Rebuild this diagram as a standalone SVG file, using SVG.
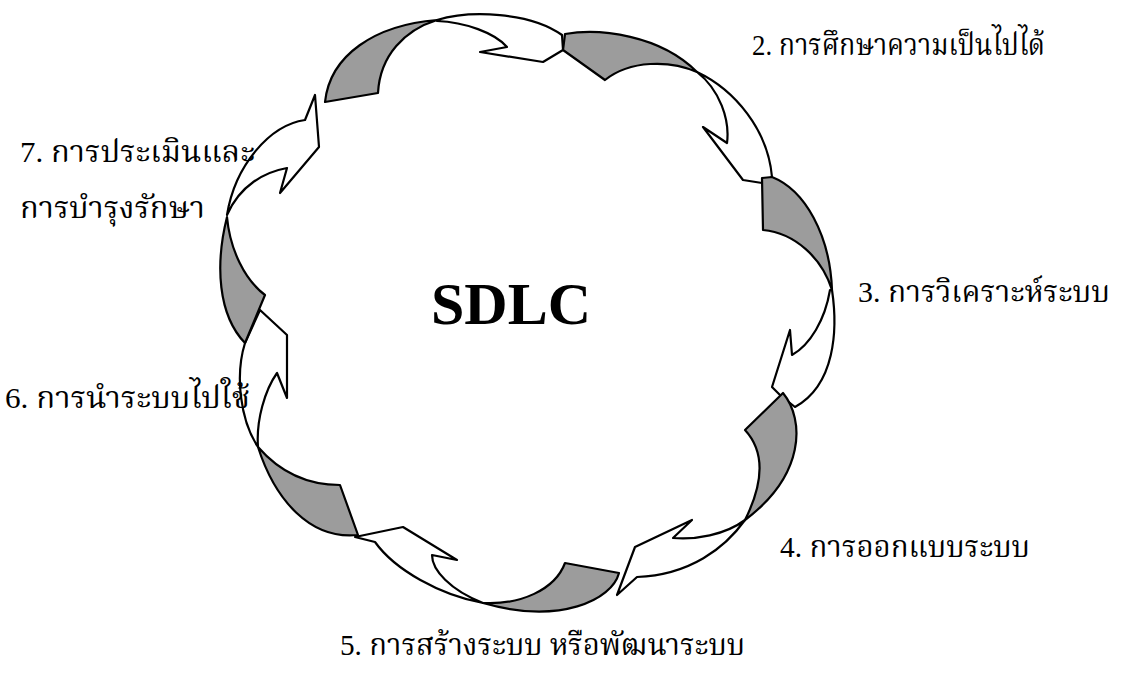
<svg xmlns="http://www.w3.org/2000/svg" width="1126" height="673" viewBox="0 0 1126 673">
<style>
.w{fill:#fff;stroke:#000;stroke-width:2.2;stroke-linejoin:round}
.g{fill:#9c9c9c;stroke:#000;stroke-width:2.2;stroke-linejoin:round}
.t{font-family:"Liberation Serif","Noto Serif Thai","Noto Sans Thai",serif;font-size:30px;fill:#000}
.c{font-family:"Liberation Serif","Times New Roman",serif;font-size:60px;font-weight:bold;fill:#000}
</style>
<rect width="1126" height="673" fill="#fff"/>
<g id="connectors">
<g id="arrow-1">
<path class="w" d="M437,20 C470,10 530,12 562,35 L563,50 L543,62 L480,52 L507,47 C495,33 465,22 437,21 Z"/>
<path class="g" d="M325,102 C330,55 375,25 437,20 C405,30 380,55 378,93 Z"/>
</g>
<g id="arrow-2">
<path class="w" d="M697,72 C735,90 768,130 772,177 L762,183 L743,180 L703,127 L727,143 C730,120 720,90 697,72 Z"/>
<path class="g" d="M563,50 L565,34 C600,28 660,35 697,72 C670,60 630,60 605,80 Z"/>
</g>
<g id="arrow-3">
<path class="w" d="M832,290 C838,330 835,385 795,407 L780,395 L772,387 L790,330 L792,355 C810,345 825,320 830,290 Z"/>
<path class="g" d="M762,178 L772,177 C805,190 830,235 832,290 C822,258 795,233 763,230 Z"/>
</g>
<g id="arrow-4">
<path class="w" d="M745,520 C725,548 690,575 637,577 L617,595 L635,547 L692,520 L673,538 C695,540 725,535 745,520 Z"/>
<path class="g" d="M745,430 L783,393 C805,420 805,475 745,520 C760,490 768,455 745,430 Z"/>
</g>
<g id="arrow-5">
<path class="w" d="M483,603 C440,595 395,570 375,542 L355,537 L403,527 L457,560 L432,555 C432,570 450,590 483,603 Z"/>
<path class="g" d="M565,563 L619,573 C612,600 560,625 483,603 C520,605 555,590 565,563 Z"/>
</g>
<g id="arrow-6">
<path class="w" d="M258,447 C240,420 235,375 245,343 L260,310 L287,335 L287,398 L277,373 C265,390 256,420 258,447 Z"/>
<path class="g" d="M258,447 C275,500 310,540 358,535 L340,485 C305,485 278,470 258,447 Z"/>
</g>
<g id="arrow-7">
<path class="w" d="M227,215 C235,165 270,125 305,120 L315,95 L319,147 L280,193 L287,168 C265,172 240,185 227,215 Z"/>
<path class="g" d="M227,217 C215,265 218,315 245,343 L265,295 C245,280 230,250 227,217 Z"/>
</g>
</g>
<g id="center"><text class="c" x="511" y="324" text-anchor="middle">SDLC</text></g>
<g id="stage-2"><text class="t" x="752" y="55" textLength="293" lengthAdjust="spacingAndGlyphs">2. การศึกษาความเป็นไปได้</text></g>
<g id="stage-3"><text class="t" x="858" y="302" textLength="252" lengthAdjust="spacingAndGlyphs">3. การวิเคราะห์ระบบ</text></g>
<g id="stage-4"><text class="t" x="780" y="557" textLength="250" lengthAdjust="spacingAndGlyphs">4. การออกแบบระบบ</text></g>
<g id="stage-5"><text class="t" x="340" y="655" textLength="405" lengthAdjust="spacingAndGlyphs">5. การสร้างระบบ หรือพัฒนาระบบ</text></g>
<g id="stage-6"><text class="t" x="5" y="408" textLength="245" lengthAdjust="spacingAndGlyphs">6. การนำระบบไปใช้</text></g>
<g id="stage-7"><text class="t" x="20" y="162" textLength="235" lengthAdjust="spacingAndGlyphs">7. การประเมินและ</text><text class="t" x="20" y="218" textLength="185" lengthAdjust="spacingAndGlyphs">การบำรุงรักษา</text></g>
</svg>
